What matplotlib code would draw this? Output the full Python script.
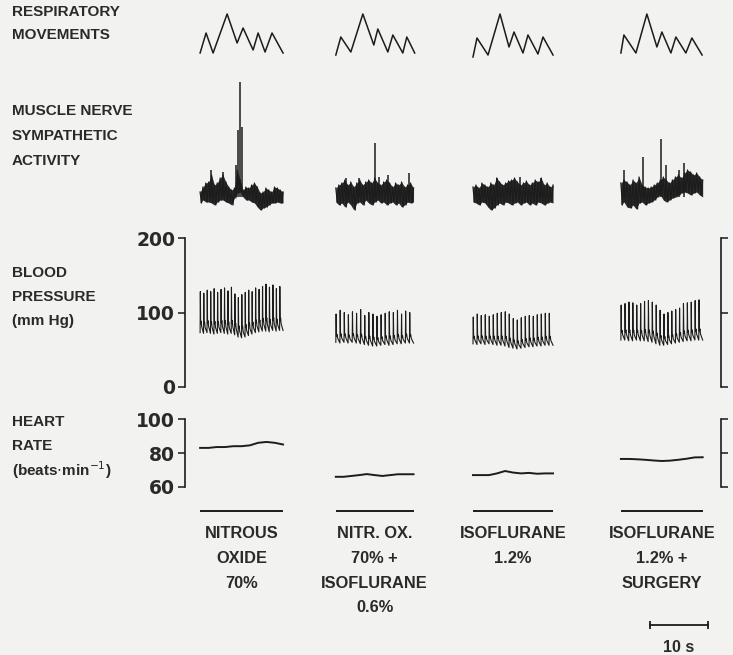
import numpy as np
import matplotlib.pyplot as plt

plt.rcParams['font.family'] = ['Liberation Sans', 'DejaVu Sans']

W, H = 733, 655
PX_S = 5.8              # paper speed: pixels per second (10 s bar = 58 px)
INK = '#1c1c1c'
TXT = '#2a2a2a'
BG = '#f2f2f0'

# --- conditions -------------------------------------------------------------
cond_labels = [['NITROUS', 'OXIDE', '70%'],
               ['NITR. OX.', '70% +', 'ISOFLURANE', '0.6%'],
               ['ISOFLURANE', '1.2%'],
               ['ISOFLURANE', '1.2% +', 'SURGERY']]
cond_start = [34.5, 57.9, 81.55, 107.05]     # s along the paper
cond_dur = [14.3, 13.4, 13.8, 14.1]          # s

# --- respiratory movements (s from start, arbitrary units) ------------------
resp_t = [[0, 1.03, 2.24, 4.66, 6.38, 7.41, 9.14, 10.0, 11.2, 12.4, 14.3],
          [0, 0.86, 2.59, 4.66, 6.55, 7.24, 8.97, 9.83, 11.55, 12.24, 13.6],
          [0, 0.69, 2.59, 4.66, 6.21, 7.07, 8.62, 9.48, 11.2, 12.07, 13.8],
          [0, 0.52, 2.59, 4.48, 6.21, 7.07, 8.62, 9.48, 11.2, 12.24, 14.0]]
resp_amp = [[7, 27, 7, 46, 17, 32, 10, 27, 8, 27, 7],
            [5, 23, 8, 46, 15, 31, 8, 25, 7, 23, 7],
            [3, 22, 5, 46, 13, 28, 7, 25, 6, 23, 5],
            [7, 25, 7, 46, 13, 28, 7, 23, 7, 22, 5]]

# --- muscle nerve sympathetic activity (envelope, arbitrary units) ----------
msna_hi = [[13, 18, 22, 23, 30, 20, 22, 27, 30, 23, 18, 15, 17, 35, 25,
            15, 18, 17, 20, 22, 18, 12, 13, 17, 15, 13, 18, 17, 15, 13],
           [17, 20, 22, 25, 20, 23, 18, 22, 25, 20, 23, 25, 22, 27, 22,
            20, 23, 25, 22, 18, 22, 20, 23, 18, 20, 22, 17],
           [18, 20, 17, 22, 20, 18, 22, 20, 27, 23, 20, 22, 24, 25, 27,
            23, 20, 22, 24, 20, 22, 25, 23, 27, 20, 22, 18, 20],
           [22, 25, 23, 20, 25, 22, 28, 20, 18, 17, 18, 20, 22, 25, 28,
            25, 22, 25, 28, 30, 27, 32, 35, 33, 30, 32, 28, 25]]
msna_lo = [[2, 5, 3, 3, 2, 0, 3, 5, 5, 3, 2, 0, 7, 12, 13,
            8, 5, 5, 3, 2, -2, -5, -3, -2, 0, 2, 2, 3, 2, 2],
           [3, 0, 2, -2, 3, 0, -5, 2, 3, 0, 5, 2, 0, 3, 5,
            2, 3, 0, 2, 3, 0, 2, -2, 0, 3, 2, 3],
           [3, 2, 0, 3, 2, -2, -5, -3, 0, 2, 0, 3, 2, 0, 2,
            3, 0, 2, 3, 0, 2, 0, 3, 2, 0, 2, 3, 2],
           [0, 3, -2, -3, 0, -4, 2, 3, 0, 2, 3, 5, 8, 10, 5,
            3, 5, 7, 8, 10, 12, 13, 12, 10, 12, 13, 10, 8]]
spike_t = [[1.9, 3.9, 6.2, 6.5, 6.95, 7.2],
           [1.7, 4.0, 6.7, 7.4, 9.0, 12.6],
           [4.1, 8.1, 11.8],
           [0.6, 3.8, 6.9, 7.7, 10.0, 10.9]]
spike_top = [[35, 33, 40, 75, 123, 78],
             [27, 27, 62, 28, 30, 32],
             [27, 28, 27],
             [35, 48, 66, 40, 35, 42]]

# --- blood pressure, per beat (mm Hg) ----------------------------------------
bp_sys = [[128, 126, 130, 128, 132, 127, 131, 133, 129, 134, 125, 120,
           124, 127, 130, 128, 133, 131, 135, 138, 134, 137, 132, 135],
          [98, 103, 100, 97, 101, 99, 104, 96, 100, 98, 95, 97, 99, 101,
           100, 103, 98, 102, 100],
          [94, 98, 96, 97, 95, 97, 99, 100, 101, 98, 92, 90, 93, 95, 96,
           95, 97, 98, 99, 99],
          [110, 112, 114, 113, 110, 112, 115, 116, 114, 110, 103, 98, 100,
           102, 104, 106, 112, 113, 114, 116, 117]]
bp_dia = [[73, 72, 73, 72, 71, 72, 73, 72, 71, 72, 70, 67, 66, 67, 69, 71,
           73, 74, 75, 75, 74, 76, 75, 76],
          [60, 59, 60, 59, 60, 59, 58, 57, 56, 55, 55, 56, 57, 56, 57, 58,
           58, 59, 59],
          [58, 57, 58, 57, 58, 57, 56, 56, 55, 53, 52, 51, 52, 53, 54, 54,
           55, 55, 56, 56],
          [63, 63, 62, 62, 63, 62, 62, 61, 60, 58, 56, 56, 57, 58, 59, 60,
           61, 62, 62, 63, 63]]

# --- heart rate (beats/min) --------------------------------------------------
hr = [[83, 83, 83.5, 83.5, 84, 84, 84.5, 86, 86.5, 86, 85],
      [66, 66, 66.5, 67, 67.6, 67, 66.5, 67, 67.5, 67.5, 67.5],
      [67, 67, 67, 68, 69.4, 68.5, 68, 68.3, 67.8, 68, 68],
      [76.5, 76.5, 76.3, 76.0, 75.6, 75.3, 75.5, 76, 76.6, 77.4, 77.5]]

left_labels = [(['RESPIRATORY', 'MOVEMENTS'], 12, 23),
               (['MUSCLE NERVE', 'SYMPATHETIC', 'ACTIVITY'], 111, 25),
               (['BLOOD', 'PRESSURE', '(mm Hg)'], 273, 24),
               (['HEART', 'RATE', r'(beats$\cdot$min$^{-1}$)'], 422, 24)]


fig = plt.figure(figsize=(W / 100, H / 100), dpi=100, facecolor=BG)


def row_axes(top, bottom, v_top, v_bottom):
    ax = fig.add_axes([0, 1 - bottom / H, 1, (bottom - top) / H])
    ax.set_xlim(0, W / PX_S)
    ax.set_ylim(v_bottom, v_top)
    ax.patch.set_visible(False)
    for s in ax.spines.values():
        s.set_visible(False)
    ax.set_xticks([])
    ax.set_yticks([])
    return ax


def scale_axis(ax, lo, hi, ticks):
    for side, xp in (('left', 185), ('right', 721)):
        sp = ax.spines[side]
        sp.set_visible(True)
        sp.set_position(('data', xp / PX_S))
        sp.set_bounds(lo, hi)
        sp.set_linewidth(1.2)
        sp.set_color(INK)
    ax.set_yticks(ticks)
    ax.yaxis.set_ticks_position('both')
    ax.tick_params(axis='y', direction='out', length=5, width=1.2, pad=2,
                   labelsize=13.5, labelright=False, colors=TXT)
    for lab in ax.get_yticklabels():
        lab.set_family('DejaVu Sans')
        lab.set_weight('bold')


ax_resp = row_axes(5, 65, 55, -5)
ax_msna = row_axes(70, 215, 135, -10)
ax_bp = row_axes(230, 395, (387 - 230) * 200 / 149, (387 - 395) * 200 / 149)
ax_hr = row_axes(412, 495, 60 + (487 - 412) * 40 / 68, 60 + (487 - 495) * 40 / 68)
scale_axis(ax_bp, 0, 200, [0, 100, 200])
scale_axis(ax_hr, 60, 100, [60, 80, 100])

for i in range(4):
    t0, d = cond_start[i], cond_dur[i]

    ax_resp.plot(t0 + np.array(resp_t[i]), resp_amp[i], color=INK, lw=1.1)

    # MSNA: dense band between the read envelopes, zig-zag edge on top
    tm = t0 + np.linspace(0, d, len(msna_hi[i]))
    step = d / (len(msna_hi[i]) - 1)
    ax_msna.fill_between(tm, msna_lo[i], msna_hi[i], color='#2a2a2a', lw=0)
    zx = np.ravel(np.column_stack([tm, tm + step / 2]))[:-1]
    zy = np.ravel(np.column_stack([msna_hi[i], msna_lo[i]]))[:-1]
    ax_msna.plot(zx, zy, color=INK, lw=0.9)
    ax_msna.vlines(t0 + np.array(spike_t[i]), 8, spike_top[i], color=INK, lw=1.1)

    # BP: one pulse per read beat (diastolic -> systolic -> decay)
    n = len(bp_sys[i])
    p = d / n
    tt, vv = [], []
    for k in range(n):
        s = t0 + k * p
        lo = bp_dia[i][k]
        pulse = bp_sys[i][k] - lo
        tt += [s, s + 0.07 * p, s + 0.16 * p, s + 0.3 * p, s + 0.45 * p]
        vv += [lo, bp_sys[i][k], lo + 0.22 * pulse, lo + 0.28 * pulse, lo + 0.15 * pulse]
    tt.append(t0 + d)
    vv.append(bp_dia[i][-1])
    ax_bp.plot(tt, vv, color=INK, lw=0.8)

    ax_hr.plot(t0 + np.linspace(0, d, len(hr[i])), hr[i], color=INK, lw=1.4)

# overlay: x in seconds, y in pixels
ov = fig.add_axes([0, 0, 1, 1])
ov.set_xlim(0, W / PX_S)
ov.set_ylim(H, 0)
ov.axis('off')
ov.patch.set_visible(False)

for i in range(4):
    t0, d = cond_start[i], cond_dur[i]
    ov.hlines(511, t0, t0 + d, color=INK, lw=1.4)
    for j, line in enumerate(cond_labels[i]):
        ov.text(t0 + d / 2, 534 + j * 24.5, line, ha='center', va='center',
                fontsize=11.8, fontweight='bold', color=TXT)

for lines, y0, step in left_labels:
    for j, line in enumerate(lines):
        ov.text(12 / PX_S, y0 + j * step, line, ha='left', va='center',
                fontsize=11, fontweight='bold', color=TXT)

# 10 s time bar
ov.plot([650 / PX_S, 650 / PX_S + 10], [625, 625], color=INK, lw=1.3,
        marker='|', markersize=6, markeredgewidth=1.3)
ov.text(650 / PX_S + 5, 647, '10 s', ha='center', va='center', fontsize=11.5,
        fontweight='bold', color=TXT)

fig.savefig('out.png', dpi=100, facecolor=BG)
